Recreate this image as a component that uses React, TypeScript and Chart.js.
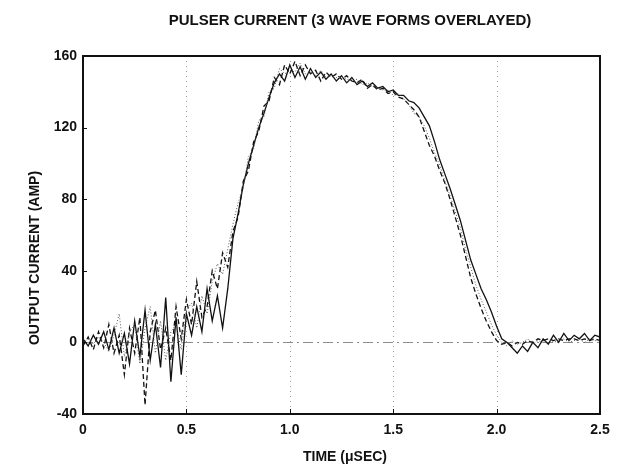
import React, { useEffect, useRef } from "react";
import { Chart, registerables } from "chart.js";

Chart.register(...registerables);

const TITLE = "PULSER CURRENT (3 WAVE FORMS OVERLAYED)";
const X_TITLE = "TIME (\u03bcSEC)";
const Y_TITLE = "OUTPUT CURRENT (AMP)";

const X_TICKS = [0, 0.5, 1.0, 1.5, 2.0, 2.5];
const X_TICK_LABELS = ["0", "0.5", "1.0", "1.5", "2.0", "2.5"];
const Y_TICKS = [-40, 0, 40, 80, 120, 160];
const GRID_X = [0.5, 1.0, 1.5, 2.0];

const TIMES = [
  0, 0.025, 0.05, 0.075, 0.1, 0.125, 0.15, 0.175, 0.2, 0.225,
  0.25, 0.275, 0.3, 0.325, 0.35, 0.375, 0.4, 0.425, 0.45, 0.475,
  0.5, 0.525, 0.55, 0.575, 0.6, 0.625, 0.65, 0.675, 0.7, 0.725,
  0.75, 0.775, 0.8, 0.825, 0.85, 0.875, 0.9, 0.925, 0.95, 0.975,
  1.0, 1.025, 1.05, 1.075, 1.1, 1.125, 1.15, 1.175, 1.2, 1.225,
  1.25, 1.275, 1.3, 1.325, 1.35, 1.375, 1.4, 1.425, 1.45, 1.475,
  1.5, 1.525, 1.55, 1.575, 1.6, 1.625, 1.65, 1.675, 1.7, 1.725,
  1.75, 1.775, 1.8, 1.825, 1.85, 1.875, 1.9, 1.925, 1.95, 1.975,
  2.0, 2.025, 2.05, 2.075, 2.1, 2.125, 2.15, 2.175, 2.2, 2.225,
  2.25, 2.275, 2.3, 2.325, 2.35, 2.375, 2.4, 2.425, 2.45, 2.475,
  2.5,
];

const WAVE_SOLID = [
  2, -2, 4, -1, 6, -4, 8, -6, 5, -12,
  12, -8, 18, -10, 10, -14, 25, -22, 14, -18,
  16, 4, 20, 6, 30, 12, 26, 8, 30, 58,
  72, 88, 100, 110, 120, 128, 137, 145, 150, 146,
  155, 148, 154, 147, 153, 148, 151, 147, 150, 146,
  149, 145, 148, 144, 146, 143, 145, 142, 143, 140,
  141, 138, 138, 135, 134, 131, 126, 121, 112, 102,
  94, 86, 77, 68, 57, 46, 38, 30, 24, 17,
  9, 2, 0, -3, -6, -2, -5, 0, -3, 2,
  -1, 4, 0, 5, 1, 4, 2, 5, 1, 4,
  3,
];

const WAVE_DASHED = [
  -2, 3, -4, 6, -3, 10, -6, 4, -18, 8,
  -6, 14, -35, 6, 18, -4, 8, -10, 20, 2,
  24, 10, 34, 14, 20, 40, 30, 50, 42, 62,
  70, 90, 96, 112, 118, 132, 135, 148, 144, 155,
  150, 157, 149, 155, 150, 152, 146, 151, 148, 150,
  147, 149, 146, 145, 147, 142, 144, 141, 142, 139,
  140, 137, 136, 133, 130, 126, 118, 110, 104, 96,
  89, 80, 70, 60, 48, 36, 27, 19, 12, 6,
  1, -1, 0, -2, 0, -1, 1, 0, 2, 1,
  2, 1, 2, 1, 2, 2, 1, 2, 1, 2,
  1,
];

const WAVE_DOTTED = [
  0, 2, -1, 3, 0, -5, 4, 16, -8, 6,
  10, -12, 8, 20, -6, 12, -10, 6, 10, -4,
  18, 22, 8, 26, 16, 34, 44, 38, 52, 66,
  78, 86, 104, 108, 124, 126, 140, 142, 153, 150,
  152, 151, 156, 150, 151, 149, 152, 148, 149, 148,
  148, 147, 146, 147, 144, 145, 143, 142, 141, 141,
  138, 139, 136, 133, 128, 126, 121, 114, 106, 99,
  90, 82, 73, 64, 52, 42, 32, 24, 17, 10,
  4, 0, -2, 1, -1, 0, 2, -1, 1, 0,
  2, 0, 1, 2, 0, 1, 2, 0, 2, 1,
  1,
];

const FONT = "'Liberation Sans', Arial, Helvetica, sans-serif";

const framePlugin = {
  id: "frameAndGuides",
  beforeDatasetsDraw(chart: any) {
    const { ctx, chartArea, scales } = chart;
    const x = scales.x;
    const y = scales.y;
    ctx.save();
    // dotted vertical guides
    ctx.strokeStyle = "#9a9a9a";
    ctx.lineWidth = 1;
    ctx.setLineDash([1, 4]);
    GRID_X.forEach((v) => {
      const px = Math.round(x.getPixelForValue(v)) + 0.5;
      ctx.beginPath();
      ctx.moveTo(px, chartArea.top);
      ctx.lineTo(px, chartArea.bottom);
      ctx.stroke();
    });
    // dash-dot zero line
    ctx.setLineDash([10, 4, 2, 4]);
    ctx.strokeStyle = "#8c8c8c";
    const py = Math.round(y.getPixelForValue(0)) + 0.5;
    ctx.beginPath();
    ctx.moveTo(chartArea.left, py);
    ctx.lineTo(chartArea.right, py);
    ctx.stroke();
    ctx.restore();
  },
  afterDraw(chart: any) {
    const { ctx, chartArea, scales } = chart;
    const x = scales.x;
    const y = scales.y;
    ctx.save();
    ctx.setLineDash([]);
    ctx.strokeStyle = "#111";
    ctx.lineWidth = 2;
    ctx.strokeRect(chartArea.left, chartArea.top, chartArea.right - chartArea.left, chartArea.bottom - chartArea.top);
    // inward tick marks
    ctx.lineWidth = 1;
    X_TICKS.forEach((v) => {
      const px = Math.round(x.getPixelForValue(v)) + 0.5;
      ctx.beginPath();
      ctx.moveTo(px, chartArea.bottom);
      ctx.lineTo(px, chartArea.bottom - 5);
      ctx.stroke();
    });
    Y_TICKS.forEach((v) => {
      const py = Math.round(y.getPixelForValue(v)) + 0.5;
      ctx.beginPath();
      ctx.moveTo(chartArea.left, py);
      ctx.lineTo(chartArea.left + 4, py);
      ctx.stroke();
    });
    // titles
    ctx.fillStyle = "#111";
    ctx.textAlign = "center";
    ctx.textBaseline = "middle";
    ctx.font = `bold 15px ${FONT}`;
    ctx.fillText(TITLE, 350, 21);
    ctx.font = `bold 14px ${FONT}`;
    ctx.fillText(X_TITLE, 345, 457);
    ctx.translate(35, 258);
    ctx.rotate(-Math.PI / 2);
    ctx.fillText(Y_TITLE, 0, 0);
    ctx.restore();
  },
};

export default function App() {
  const canvasRef = useRef<HTMLCanvasElement | null>(null);

  useEffect(() => {
    document.body.style.margin = "0";
    const canvas = canvasRef.current;
    if (!canvas) return;
    const mk = (vals: number[]) => vals.map((v, i) => ({ x: TIMES[i], y: v }));
    const chart = new Chart(canvas, {
      type: "line",
      data: {
        datasets: [
          {
            label: "Wave 3",
            data: mk(WAVE_DOTTED),
            borderColor: "#555",
            borderWidth: 1,
            borderDash: [1, 2],
            pointRadius: 0,
            tension: 0,
          },
          {
            label: "Wave 2",
            data: mk(WAVE_DASHED),
            borderColor: "#111",
            borderWidth: 1.3,
            borderDash: [5, 3],
            pointRadius: 0,
            tension: 0,
          },
          {
            label: "Wave 1",
            data: mk(WAVE_SOLID),
            borderColor: "#111",
            borderWidth: 1.3,
            pointRadius: 0,
            tension: 0,
          },
        ],
      },
      options: {
        animation: false,
        responsive: false,
        devicePixelRatio: 1,
        layout: { padding: { top: 56, right: 22, left: 0, bottom: 0 } },
        plugins: {
          legend: { display: false },
          tooltip: { enabled: false },
          title: { display: false },
        },
        scales: {
          x: {
            type: "linear",
            min: 0,
            max: 2.5,
            afterBuildTicks: (s: any) => {
              s.ticks = X_TICKS.map((v) => ({ value: v }));
            },
            afterFit: (s: any) => {
              s.height = 59;
            },
            grid: { display: false, drawTicks: false },
            border: { display: false },
            ticks: {
              padding: 8,
              color: "#111",
              font: { family: FONT, size: 14, weight: "bold" },
              maxRotation: 0,
              callback: (v: any) => {
                const i = X_TICKS.indexOf(Number(v));
                return i >= 0 ? X_TICK_LABELS[i] : "";
              },
            },
          },
          y: {
            type: "linear",
            min: -40,
            max: 160,
            afterBuildTicks: (s: any) => {
              s.ticks = Y_TICKS.map((v) => ({ value: v }));
            },
            afterFit: (s: any) => {
              s.width = 83;
            },
            grid: { display: false, drawTicks: false },
            border: { display: false },
            ticks: {
              padding: 6,
              color: "#111",
              font: { family: FONT, size: 14, weight: "bold" },
            },
          },
        },
      },
      plugins: [framePlugin],
    } as any);
    return () => chart.destroy();
  }, []);

  return (
    <div style={{ width: 622, height: 473 }}>
      <canvas ref={canvasRef} width={622} height={473} style={{ display: "block" }} />
    </div>
  );
}
